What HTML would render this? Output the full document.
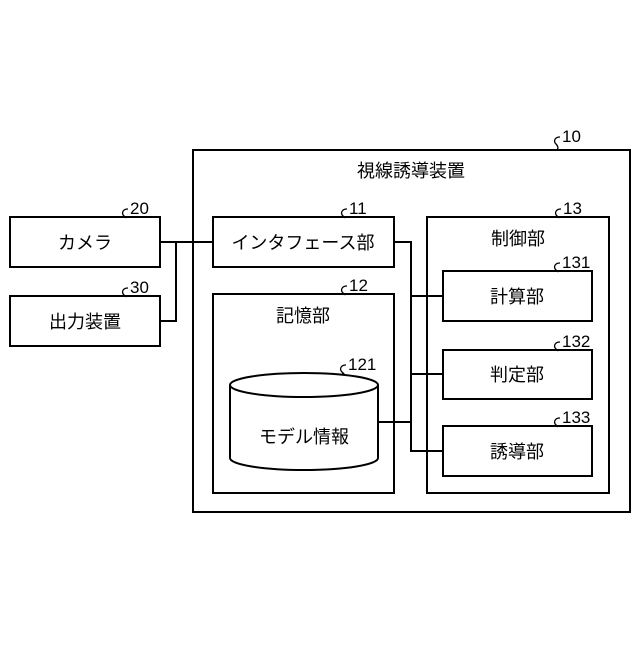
<!DOCTYPE html>
<html><head><meta charset="utf-8"><style>
body{margin:0;background:#fff;}
svg text{font-family:"Liberation Sans","Noto Sans CJK JP",sans-serif;fill:#000;}
</style></head><body>
<svg width="640" height="640" viewBox="0 0 640 640" xmlns="http://www.w3.org/2000/svg">
<g fill="none" stroke="#000" stroke-width="2">
<rect x="193" y="150" width="437" height="362"/>
<rect x="10" y="217" width="150" height="50"/>
<rect x="10" y="296" width="150" height="50"/>
<rect x="213" y="217" width="181" height="50"/>
<rect x="213" y="294" width="181" height="199"/>
<rect x="427" y="217" width="182" height="276"/>
<rect x="443" y="271" width="149" height="50"/>
<rect x="443" y="350" width="149" height="49"/>
<rect x="443" y="426" width="149" height="50"/>
<path d="M160 242H213M176 242V321H160"/>
<path d="M394 242H411V451H443M411 296H443M411 374H443M379 422H411"/>
<path d="M230 385V458A74 12 0 0 0 378 458V385"/>
<ellipse cx="304" cy="385" rx="74" ry="12"/>
</g>
<g fill="none" stroke="#000" stroke-width="1.3">
<path d="M560 137c-5 0-7 4-4 7s2 6 0 6M128 209c-5 0-7 4-4 7s2 1 0 1M128 288c-5 0-7 4-4 7s2 1 0 1M347 209c-5 0-7 4-4 7s2 1 0 1M347 286c-5 0-7 4-4 7s2 1 0 1M561 209c-5 0-7 4-4 7s2 1 0 1M560 263c-5 0-7 4-4 7s2 1 0 1M560 342c-5 0-7 4-4 7s2 1 0 1M560 418c-5 0-7 4-4 7s2 1 0 1M346 365c-5 0-7 4-4 7s2 1 0 1"/>
</g>
<g font-size="17">
<text x="562" y="142">10</text>
<text x="130" y="214">20</text>
<text x="130" y="293">30</text>
<text x="349" y="214">11</text>
<text x="349" y="291">12</text>
<text x="563" y="214">13</text>
<text x="562" y="268">131</text>
<text x="562" y="347">132</text>
<text x="562" y="423">133</text>
<text x="348" y="370">121</text>
</g>
<g font-size="18" text-anchor="middle">
<text x="411" y="177">視線誘導装置</text>
<text x="85" y="249">カメラ</text>
<text x="85" y="328">出力装置</text>
<text x="303" y="249">インタフェース部</text>
<text x="303" y="322">記憶部</text>
<text x="518" y="245">制御部</text>
<text x="517" y="303">計算部</text>
<text x="517" y="381">判定部</text>
<text x="517" y="458">誘導部</text>
<text x="304" y="443">モデル情報</text>
</g>
</svg>
</body></html>
